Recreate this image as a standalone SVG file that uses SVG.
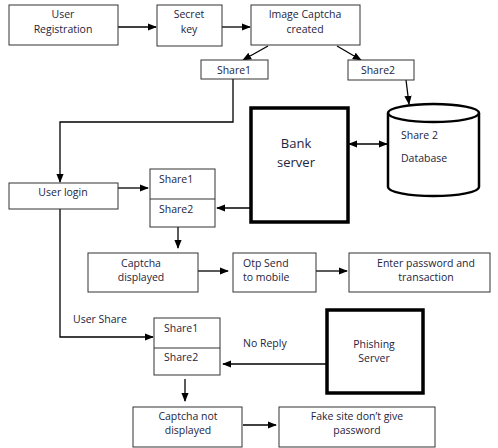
<svg xmlns="http://www.w3.org/2000/svg" width="498" height="448" viewBox="0 0 498 448">
<style>
.b{fill:#fff;stroke:#333;stroke-width:1}
.k{fill:#fff;stroke:#000;stroke-width:3.5}
.t{font-family:"Open Sans","Liberation Sans",sans-serif;font-size:10.5px;fill:#1d2440;text-anchor:middle}
.s{text-anchor:start}
.big{font-size:13px}
.c{fill:none;stroke:#000;stroke-width:1.3}
</style>
<defs>
<marker id="a" viewBox="0 0 10 10" refX="9" refY="5" markerWidth="7" markerHeight="7" orient="auto-start-reverse"><path d="M0,1 L10,5 L0,9 z" fill="#000"/></marker>
</defs>
<rect width="498" height="448" fill="#fff"/>
<g id="connectors">
<line class="c" x1="118" y1="27" x2="156" y2="27" marker-end="url(#a)"/>
<line class="c" x1="222" y1="27" x2="250" y2="27" marker-end="url(#a)"/>
<line class="c" x1="268" y1="46" x2="243" y2="60" marker-end="url(#a)"/>
<line class="c" x1="337" y1="46" x2="361" y2="60" marker-end="url(#a)"/>
<line class="c" x1="406" y1="80" x2="409" y2="104" marker-end="url(#a)"/>
<line class="c" x1="349" y1="144" x2="387" y2="144" marker-start="url(#a)" marker-end="url(#a)"/>
<polyline class="c" points="233,79 233,122 60,122 60,182" marker-end="url(#a)"/>
<line class="c" x1="118" y1="188" x2="148" y2="188" marker-end="url(#a)"/>
<line class="c" x1="250" y1="208" x2="217" y2="208" marker-end="url(#a)"/>
<line class="c" x1="178" y1="227" x2="178" y2="248" marker-end="url(#a)"/>
<line class="c" x1="198" y1="271" x2="228" y2="271" marker-end="url(#a)"/>
<line class="c" x1="316" y1="271" x2="347" y2="271" marker-end="url(#a)"/>
<polyline class="c" points="60,209 60,337 153,337" marker-end="url(#a)"/>
<line class="c" x1="327" y1="364" x2="223" y2="364" marker-end="url(#a)"/>
<line class="c" x1="185" y1="379" x2="185" y2="401" marker-end="url(#a)"/>
<line class="c" x1="243" y1="425" x2="276" y2="425" marker-end="url(#a)"/>
</g>
<g id="user-registration"><rect class="b" x="9" y="5" width="109" height="40"/><text class="t" x="63" y="18">User</text><text class="t" x="63" y="33">Registration</text></g>
<g id="secret-key"><rect class="b" x="157" y="5" width="65" height="41"/><text class="t" x="189" y="18">Secret</text><text class="t" x="189" y="33">key</text></g>
<g id="image-captcha"><rect class="b" x="251" y="5" width="109" height="40"/><text class="t" x="305" y="18">Image Captcha</text><text class="t" x="305" y="33">created</text></g>
<g id="share1-top"><rect class="b" x="201" y="60" width="67" height="19"/><text class="t" x="234" y="74">Share1</text></g>
<g id="share2-top"><rect class="b" x="348" y="60" width="66" height="20"/><text class="t" x="378" y="74">Share2</text></g>
<g id="database">
<path d="M388,113 L388,187 A45.5,9 0 0 0 479,187 L479,113" fill="#fff" stroke="#000" stroke-width="2.5"/>
<ellipse cx="433.5" cy="113" rx="45.5" ry="9" fill="#fff" stroke="#000" stroke-width="2.5"/>
<text class="t s" x="401" y="139">Share 2</text><text class="t s" x="401" y="162">Database</text>
</g>
<g id="bank-server"><rect class="k" x="251" y="108" width="97" height="114"/><text class="t big" x="296" y="148">Bank</text><text class="t big" x="296" y="167">server</text></g>
<g id="user-login"><rect class="b" x="9" y="183" width="109" height="26"/><text class="t" x="63" y="196">User login</text></g>
<g id="share-box-1"><rect class="b" x="150" y="169" width="65" height="58"/><line x1="150" y1="199" x2="215" y2="199" stroke="#333"/><text class="t s" x="159" y="183">Share1</text><text class="t s" x="159" y="213">Share2</text></g>
<g id="captcha-displayed"><rect class="b" x="88" y="253" width="110" height="39"/><text class="t" x="141" y="267">Captcha</text><text class="t" x="141" y="281">displayed</text></g>
<g id="otp-send"><rect class="b" x="233" y="253" width="83" height="39"/><text class="t s" x="243" y="267">Otp Send</text><text class="t s" x="243" y="281">to mobile</text></g>
<g id="enter-password"><rect class="b" x="349" y="253" width="141" height="39"/><text class="t" x="426" y="267">Enter password and</text><text class="t" x="426" y="281">transaction</text></g>
<g id="user-share-label"><text class="t s" x="73" y="323">User Share</text></g>
<g id="share-box-2"><rect class="b" x="154" y="318" width="66" height="57"/><line x1="154" y1="348" x2="220" y2="348" stroke="#333"/><text class="t s" x="164" y="332">Share1</text><text class="t s" x="164" y="361">Share2</text></g>
<g id="no-reply-label"><text class="t s" x="243" y="347">No Reply</text></g>
<g id="phishing-server"><rect class="k" x="327" y="310" width="96" height="83"/><text class="t" x="374" y="348">Phishing</text><text class="t" x="374" y="362">Server</text></g>
<g id="captcha-not-displayed"><rect class="b" x="133" y="407" width="109" height="40"/><text class="t" x="188" y="420">Captcha not</text><text class="t" x="188" y="434">displayed</text></g>
<g id="fake-site"><rect class="b" x="279" y="407" width="156" height="40"/><text class="t" x="357" y="420">Fake site don’t give</text><text class="t" x="357" y="434">password</text></g>
</svg>
